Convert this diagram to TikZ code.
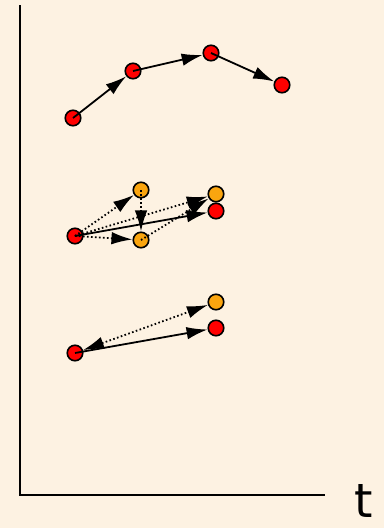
\documentclass[tikz,border=0pt]{standalone}
\usepackage{fontspec}
\setsansfont{DejaVu Sans}
\usetikzlibrary{arrows.meta}
\definecolor{paper}{RGB}{253,242,226}
\definecolor{dotred}{RGB}{255,0,0}
\definecolor{dotorange}{RGB}{250,165,15}
\tikzset{
  pt/.style={circle,draw=black,line width=1.6pt,minimum size=15.5pt,inner sep=0pt},
  redpt/.style={pt,fill=dotred},
  orangept/.style={pt,fill=dotorange},
  tip/.style={-{Latex[length=21pt,width=12.5pt]}},
  move/.style={line width=1.8pt,tip},
  guess/.style={move,dash pattern=on 1.6pt off 2.4pt},
}

\begin{document}
\begin{tikzpicture}[x=1pt,y=-1pt]
      \fill[paper] (0,0) rectangle (384,528);
      \useasboundingbox (0,0) rectangle (384,528);
      % axes
      \draw[line width=2.8pt] (20,5) -- (20,495);
      \draw[line width=2.6pt] (19,495) -- (325,495);
      \node[font=\sffamily\fontsize{47}{47}\selectfont,inner sep=0pt,anchor=base] (t) at (364,517) {t};
      % first row
      \node [redpt] (a1) at (73,118) {};
      \node [redpt] (a2) at (133,71) {};
      \node [redpt] (a3) at (211,53) {};
      \node [redpt] (a4) at (282,85) {};
         \draw[move] (a1.center) -- (a2);
         \draw[move] (a2.center) -- (a3);
         \draw[move] (a3.center) -- (a4);
      % second row
      \node [redpt] (b0) at (75,236) {};
      \node [orangept] (b1) at (141,190) {};
      \node [orangept] (b2) at (141,240) {};
      \node [orangept] (b3) at (216,194) {};
      \node [redpt] (b4) at (216,211) {};
         \draw[guess] (b0.center) -- (b1);
         \draw[guess] (b0.center) -- (b2);
         \draw[guess] (b0.center) -- (b3);
         \draw[guess] (b1.center) -- (b2);
         \draw[guess] (b2.center) -- (b3);
         \draw[move] (b0.center) -- (b4);
      % third row
      \node [redpt] (c0) at (75,353) {};
      \node [orangept] (c1) at (216,302) {};
      \node [redpt] (c2) at (216,328) {};
         \draw[guess,{Latex[length=21pt,width=12.5pt]}-{Latex[length=21pt,width=12.5pt]}] (c0) -- (c1);
         \draw[move] (c0.center) -- (c2);
   \end{tikzpicture}
\end{document}
